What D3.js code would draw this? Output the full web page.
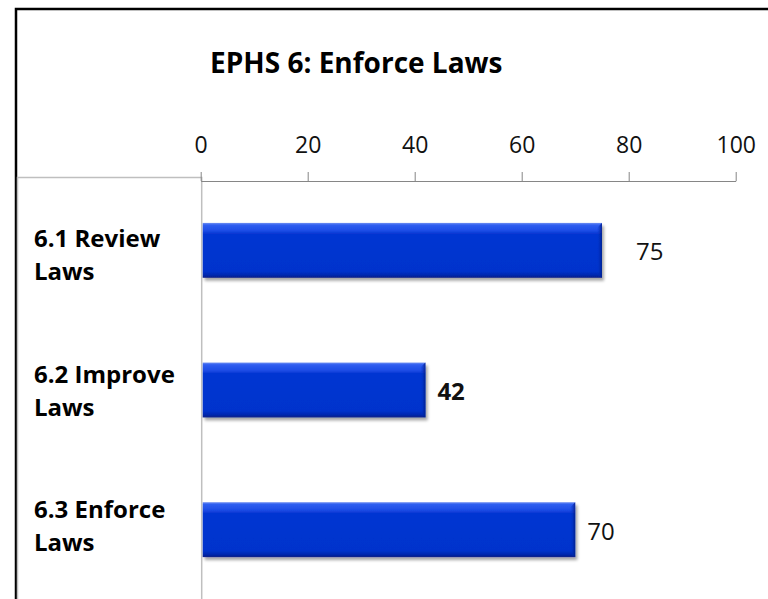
<!DOCTYPE html>
<html>
<head>
<meta charset="utf-8">
<script src="https://cdn.jsdelivr.net/npm/d3@7/dist/d3.min.js"></script>
<style>
  html, body { margin: 0; padding: 0; background: #fff; }
  svg { display: block; font-family: "Open Sans", sans-serif; }
</style>
</head>
<body>
<div id="chart"></div>
<script>
// data
const categories = ["6.1 Review|Laws", "6.2 Improve|Laws", "6.3 Enforce|Laws"]
const values = [75, 42, 70]
const valueBold = [false, true, false]
const tickValues = [0, 20, 40, 60, 80, 100]
const title = "EPHS 6: Enforce Laws"

// label nudges (Excel put the first one further out)
const labelShift = [22, 0, 0]

const width = 768
const height = 599

const svg = d3.select("#chart")
    .append("svg")
    .attr("width", width)
    .attr("height", height)

const defs = svg.append("defs")

const barGrad = defs.append("linearGradient")
    .attr("id", "barGrad")
    .attr("x1", "0%").attr("y1", "0%")
    .attr("x2", "0%").attr("y2", "100%")
barGrad.append("stop").attr("offset", "0%").attr("stop-color", "#6f8ff2")
barGrad.append("stop").attr("offset", "4%").attr("stop-color", "#2f5ef0")
barGrad.append("stop").attr("offset", "14%").attr("stop-color", "#1e4de6")
barGrad.append("stop").attr("offset", "20%").attr("stop-color", "#0636d2")
barGrad.append("stop").attr("offset", "88%").attr("stop-color", "#0333cc")
barGrad.append("stop").attr("offset", "95%").attr("stop-color", "#0228b0")
barGrad.append("stop").attr("offset", "100%").attr("stop-color", "#0a1f85")

const endGrad = defs.append("linearGradient")
    .attr("id", "endGrad")
    .attr("x1", "0%").attr("y1", "0%")
    .attr("x2", "100%").attr("y2", "0%")
endGrad.append("stop").attr("offset", "0%").attr("stop-color", "#0333cc").attr("stop-opacity", 0)
endGrad.append("stop").attr("offset", "100%").attr("stop-color", "#06218f")

const shadow = defs.append("filter")
    .attr("id", "shadow")
    .attr("x", "-5%").attr("y", "-20%")
    .attr("width", "115%").attr("height", "160%")
shadow.append("feGaussianBlur").attr("in", "SourceAlpha").attr("stdDeviation", 1.8)
shadow.append("feOffset").attr("dx", 2).attr("dy", 3).attr("result", "off")
shadow.append("feComponentTransfer").append("feFuncA").attr("type", "linear").attr("slope", 0.35)
const merge = shadow.append("feMerge")
merge.append("feMergeNode")
merge.append("feMergeNode").attr("in", "SourceGraphic")

// outer frame, only top and left show in the crop
svg.append("path")
    .attr("d", "M16,599 V9 H768")
    .attr("fill", "none")
    .attr("stroke", "#000")
    .attr("stroke-width", 2.5)

const x = d3.scaleLinear().domain([0, 100]).range([200.7, 735.7])
const y = d3.scaleBand()
    .domain(categories)
    .range([181, 599])
    .paddingInner(0.607)
    .paddingOuter(0.3)
// the category text sits a bit tighter than the bars
const yLabel = d3.scalePoint()
    .domain(categories)
    .range([247, 518])

// category box
svg.append("path")
    .attr("d", "M17.5,599 V177.5 H" + (x(0) + 1) + " V599")
    .attr("fill", "none")
    .attr("stroke", "#bfbfbf")
    .attr("stroke-width", 1.5)

svg.append("text")
    .attr("x", 210)
    .attr("y", 73)
    .style("font-size", "28px")
    .style("font-weight", "bold")
    .style("fill", "#000")
    .text(title)

// top axis
const axis = svg.append("g")
    .attr("transform", "translate(0,181)")
    .call(d3.axisTop(x).tickValues(tickValues).tickSize(9).tickPadding(0).tickSizeOuter(0))
axis.select(".domain").attr("stroke", "#868686")
axis.selectAll(".tick line").attr("stroke", "#868686")
axis.selectAll(".tick text")
    .attr("y", -28)
    .attr("dy", 0)
    .style("font-size", "23px")
    .style("font-family", "'Open Sans', sans-serif")
    .style("fill", "#111")

// bars
const bars = svg.append("g")
values.forEach((v, i) => {
    const c = categories[i]
    const g = bars.append("g").attr("filter", "url(#shadow)")
    g.append("rect")
        .attr("x", x(0) + 2)
        .attr("y", y(c))
        .attr("width", x(v) - x(0) - 2)
        .attr("height", y.bandwidth())
        .attr("fill", "url(#barGrad)")
    g.append("path")
        .attr("d", "M" + (x(v) - 5) + "," + (y(c) + 5) +
            " L" + x(v) + "," + y(c) +
            " V" + (y(c) + y.bandwidth()) +
            " L" + (x(v) - 5) + "," + (y(c) + y.bandwidth() - 3) + " Z")
        .attr("fill", "url(#endGrad)")
})

// value labels
svg.append("g").selectAll("text")
    .data(values)
    .join("text")
    .attr("x", (d, i) => x(d) + 12 + labelShift[i])
    .attr("y", (d, i) => y(categories[i]) + y.bandwidth() / 2 + 10)
    .style("font-size", "24px")
    .style("font-weight", (d, i) => valueBold[i] ? "bold" : "normal")
    .style("fill", "#111")
    .text(d => d)

// category labels, two lines each
const cat = svg.append("g").selectAll("text")
    .data(categories)
    .join("text")
    .attr("x", 34)
    .attr("y", d => yLabel(d))
    .style("font-size", "24px")
    .style("font-weight", "bold")
    .style("fill", "#000")
cat.selectAll("tspan")
    .data(d => d.split("|"))
    .join("tspan")
    .attr("x", 34)
    .attr("dy", (d, i) => i === 0 ? 0 : 33)
    .text(d => d)
</script>
</body>
</html>
